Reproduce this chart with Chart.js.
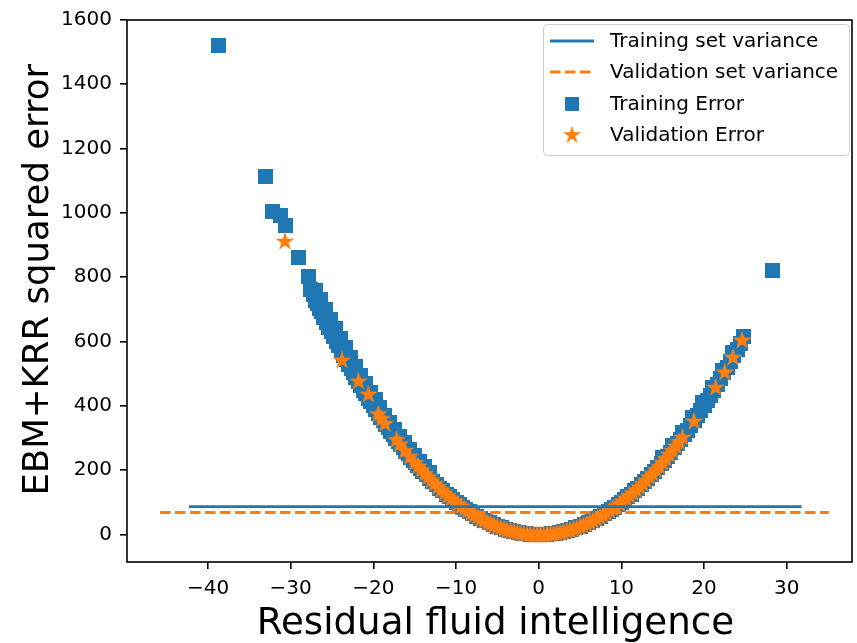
<!DOCTYPE html>
<html>
<head>
<meta charset="utf-8">
<script src="https://cdn.jsdelivr.net/npm/chart.js@4.4.1/dist/chart.umd.min.js"></script>
<style>
  body { margin: 0; background: #fff; }
  #wrap { width: 857px; height: 643px; }
</style>
</head>
<body>
<div id="wrap"><canvas id="chart" width="857" height="643"></canvas></div>
<script>
const BLUE = '#1f77b4';
const ORANGE = '#ff7f0e';
const FONT = "'DejaVu Sans', sans-serif";

// Horizontal variance lines (x extent and level)
const trainVarX = [-42.3, 31.8];
const trainVarY = 86;
const valVarX = [-45.8, 35.1];
const valVarY = 68;

// Training error (residual, squared error)
const trainX = [
  -38.7, -33.0, -32.2, -31.2, -30.6, -29.0, -27.9,
  -27.6, -27.3, -27.0, -26.8, -26.5, -26.3, -26.0, -25.7, -25.4, -25.1,
  -24.8, -24.5, -24.2, -23.9, -23.6, -23.3, -23.0, -22.7, -22.4, -22.1,
  -21.8, -21.5, -21.2, -20.9, -20.6, -20.3, -20.0, -19.7, -19.4, -19.1,
  -18.8, -18.5, -18.2, -17.9, -17.6, -17.3, -17.0, -16.7, -16.4, -16.1,
  -15.8, -15.5, -15.2, -14.9, -14.6, -14.3, -14.0, -13.6, -13.2, -12.8,
  -12.4, -12.0, -11.6, -11.2, -10.8, -10.4, -10.0, -9.6, -9.2, -8.8,
  -8.4, -8.0, -7.5, -7.0, -6.5, -6.0, -5.5, -5.0, -4.5, -4.0,
  -3.5, -3.0, -2.5, -2.0, -1.5, -1.0, -0.5, 0.0,
  0.5, 1.0, 1.5, 2.0, 2.5, 3.0, 3.5, 4.0, 4.5, 5.0,
  5.5, 6.0, 6.5, 7.0, 7.5, 8.0, 8.4, 8.8, 9.2, 9.6,
  10.0, 10.4, 10.8, 11.2, 11.6, 12.0, 12.4, 12.8, 13.2, 13.6,
  14.0, 14.4, 14.8, 15.2, 15.6, 16.0, 16.4, 16.8, 17.2, 17.6,
  18.0, 18.4, 18.8, 19.2, 19.6, 20.0, 20.4, 20.8, 21.2, 21.6,
  22.0, 22.4, 22.8, 23.2, 23.6, 24.0, 24.4, 24.8,
  28.3,
  -27.0, -26.4, -25.8, -25.2, -24.6, -24.0, -23.4, -22.8, -22.2, -21.6,
  -21.0, -20.4, -19.8, -19.2, -18.6, -18.0, -17.4, -16.8, -16.2, -15.6,
  -15.0, -14.4, -13.8, -13.2,
  15.0, 16.2, 17.4, 18.6, 19.8, 21.0, 22.2, 23.4
];
const trainY = [
  1520, 1113, 1005, 993, 962, 860, 801,
  762, 745, 729, 718, 702, 692, 676, 660, 645, 630,
  615, 600, 586, 571, 557, 543, 529, 515, 502, 488,
  475, 462, 449, 437, 424, 412, 400, 388, 376, 365,
  353, 342, 331, 320, 310, 299, 289, 279, 269, 259,
  250, 240, 231, 222, 213, 204, 196, 185, 174, 164,
  154, 144, 135, 125, 117, 108, 100, 92, 85, 77,
  71, 64, 56, 49, 42, 36, 30, 25, 20, 16,
  12, 9, 6, 4, 2, 1, 0, 0,
  0, 1, 2, 4, 6, 9, 12, 16, 20, 25,
  30, 36, 42, 49, 56, 64, 71, 77, 85, 92,
  100, 108, 117, 125, 135, 144, 154, 164, 174, 185,
  196, 207, 219, 231, 243, 256, 269, 282, 296, 310,
  324, 339, 353, 369, 384, 400, 416, 433, 449, 467,
  484, 502, 520, 538, 557, 576, 595, 615,
  820,
  760, 730, 700, 668, 640, 610, 580, 550, 522, 495,
  468, 442, 418, 394, 370, 348, 326, 305, 285, 265,
  246, 228, 210, 192,
  240, 275, 318, 362, 410, 458, 510, 566
];

// Validation error
const valX = [
  -30.7, -23.8, -21.8, -20.6, -19.4, -19.0, -18.6, -17.2, -16.8, -16.2,
  -15.6, -15.0, -14.6, -14.2, -13.8, -13.4, -13.0, -12.6, -12.2, -11.8,
  -11.4, -11.0, -10.6, -10.2, -9.8, -9.4, -9.0, -8.6, -8.2, -7.8,
  -7.4, -7.0, -6.6, -6.2, -5.8, -5.4, -5.0, -4.6, -4.2, -3.8,
  -3.4, -3.0, -2.6, -2.2, -1.8, -1.4, -1.0, -0.6, -0.2, 0.2,
  0.6, 1.0, 1.4, 1.8, 2.2, 2.6, 3.0, 3.4, 3.8, 4.2,
  4.6, 5.0, 5.4, 5.8, 6.2, 6.6, 7.0, 7.4, 7.8, 8.2,
  8.6, 9.0, 9.4, 9.8, 10.2, 10.6, 11.0, 11.4, 11.8, 12.2,
  12.6, 13.0, 13.4, 13.8, 14.2, 14.6, 15.0, 15.4, 15.8, 16.2,
  16.6, 17.0, 17.4, 18.8, 21.4, 22.5, 23.5, 24.6
];
const valY = [
  913, 543, 478, 437, 376, 361, 346, 296, 282, 262,
  243, 225, 213, 202, 190, 180, 169, 159, 149, 139,
  130, 121, 112, 104, 96, 88, 81, 74, 67, 61,
  55, 49, 44, 38, 34, 29, 25, 21, 18, 14,
  12, 9, 7, 5, 3, 2, 1, 0, 0, 0,
  0, 1, 2, 3, 5, 7, 9, 12, 14, 18,
  21, 25, 29, 34, 38, 44, 49, 55, 61, 67,
  74, 81, 88, 96, 104, 112, 121, 130, 139, 149,
  159, 169, 180, 190, 202, 213, 225, 237, 250, 262,
  276, 289, 303, 353, 458, 506, 552, 605
];

const legendLabels = ['Training set variance', 'Validation set variance', 'Training Error', 'Validation Error'];
const xTicks = [-40, -30, -20, -10, 0, 10, 20, 30];

// marker images
function squareMarker(size, color) {
  const c = document.createElement('canvas');
  c.width = size; c.height = size;
  const g = c.getContext('2d');
  g.fillStyle = color;
  g.fillRect(0, 0, size, size);
  return c;
}
function starPath(g, cx, cy, R) {
  const r = R * 0.382;
  g.beginPath();
  for (let i = 0; i < 10; i++) {
    const rad = i % 2 === 0 ? R : r;
    const a = -Math.PI / 2 + i * Math.PI / 5;
    const px = cx + rad * Math.cos(a), py = cy + rad * Math.sin(a);
    if (i === 0) g.moveTo(px, py); else g.lineTo(px, py);
  }
  g.closePath();
}
function starMarker(R, color) {
  const size = Math.ceil(R * 2 + 4);
  const c = document.createElement('canvas');
  c.width = size; c.height = size;
  const g = c.getContext('2d');
  starPath(g, size / 2, size / 2 + R * 0.1, R);
  g.fillStyle = color;
  g.fill();
  g.lineWidth = 1.2;
  g.strokeStyle = color;
  g.stroke();
  return c;
}
const squareImg = squareMarker(15, BLUE);
const starImg = starMarker(8, ORANGE);
const legendSquare = squareMarker(14, BLUE);
const legendStar = starMarker(7.5, ORANGE);

const framePlugin = {
  id: 'frame',
  afterDatasetsDraw(chart) {
    const { ctx, chartArea: a } = chart;
    ctx.save();
    ctx.strokeStyle = '#000';
    ctx.lineWidth = 1.6;
    ctx.strokeRect(a.left, a.top, a.right - a.left, a.bottom - a.top);
    ctx.restore();
  },
  afterDraw(chart) {
    const ctx = chart.ctx;
    ctx.save();
    // legend box
    const bx = 543.5, by = 24.5, bw = 306, bh = 131, rr = 4;
    ctx.beginPath();
    ctx.moveTo(bx + rr, by);
    ctx.arcTo(bx + bw, by, bx + bw, by + bh, rr);
    ctx.arcTo(bx + bw, by + bh, bx, by + bh, rr);
    ctx.arcTo(bx, by + bh, bx, by, rr);
    ctx.arcTo(bx, by, bx + bw, by, rr);
    ctx.closePath();
    ctx.fillStyle = 'rgba(255,255,255,0.8)';
    ctx.fill();
    ctx.strokeStyle = '#cccccc';
    ctx.lineWidth = 1;
    ctx.stroke();

    const rows = [41, 72, 103.5, 134.5];
    ctx.lineWidth = 2.8;
    ctx.strokeStyle = BLUE;
    ctx.beginPath(); ctx.moveTo(550, rows[0]); ctx.lineTo(594, rows[0]); ctx.stroke();
    ctx.strokeStyle = ORANGE;
    ctx.setLineDash([10.5, 4.5]);
    ctx.beginPath(); ctx.moveTo(550, rows[1]); ctx.lineTo(594, rows[1]); ctx.stroke();
    ctx.setLineDash([]);
    ctx.drawImage(legendSquare, 572 - 7, rows[2] - 7);
    ctx.drawImage(legendStar, 572 - legendStar.width / 2, rows[3] - legendStar.height / 2);

    ctx.fillStyle = '#000';
    ctx.font = "20px " + FONT;
    ctx.textBaseline = 'middle';
    ctx.textAlign = 'left';
    legendLabels.forEach((t, i) => ctx.fillText(t, 610, rows[i] + 1));
    ctx.restore();
  }
};

const ctx = document.getElementById('chart').getContext('2d');
new Chart(ctx, {
  type: 'scatter',
  data: {
    datasets: [
      {
        type: 'line',
        label: legendLabels[0],
        data: trainVarX.map(x => ({ x, y: trainVarY })),
        borderColor: BLUE,
        borderWidth: 2.8,
        pointRadius: 0,
        order: 0
      },
      {
        type: 'line',
        label: legendLabels[1],
        data: valVarX.map(x => ({ x, y: valVarY })),
        borderColor: ORANGE,
        borderWidth: 2.8,
        borderDash: [10.5, 4.5],
        pointRadius: 0,
        order: 1
      },
      {
        label: legendLabels[2],
        data: trainX.map((x, i) => ({ x, y: trainY[i] })),
        pointStyle: squareImg,
        backgroundColor: BLUE,
        borderColor: BLUE,
        order: 3
      },
      {
        label: legendLabels[3],
        data: valX.map((x, i) => ({ x, y: valY[i] })),
        pointStyle: starImg,
        backgroundColor: ORANGE,
        borderColor: ORANGE,
        order: 2
      }
    ]
  },
  options: {
    responsive: false,
    animation: false,
    devicePixelRatio: 1,
    layout: { padding: { top: 13, right: 4, left: 0, bottom: 0 } },
    plugins: { legend: { display: false }, tooltip: { enabled: false } },
    scales: {
      x: {
        type: 'linear',
        min: -49.8,
        max: 37.9,
        afterFit: s => { s.height = 81; },
        afterBuildTicks: s => { s.ticks = xTicks.map(v => ({ value: v })); },
        border: { display: false },
        grid: { drawOnChartArea: false, drawTicks: true, tickLength: 7, color: '#000', lineWidth: 1.6 },
        ticks: {
          padding: 8,
          color: '#000',
          font: { family: FONT, size: 20 },
          callback: v => v < 0 ? '\u2212' + Math.abs(v) : String(v)
        },
        title: {
          display: true,
          text: ' Residual fluid intelligence',
          color: '#000',
          font: { family: FONT, size: 37.2 },
          padding: { top: 0, bottom: -4 }
        }
      },
      y: {
        type: 'linear',
        min: -86,
        max: 1600,
        afterFit: s => { s.width = 127; },
        border: { display: false },
        grid: { drawOnChartArea: false, drawTicks: true, tickLength: 7, color: '#000', lineWidth: 1.6 },
        ticks: {
          stepSize: 200,
          includeBounds: false,
          padding: 8,
          color: '#000',
          font: { family: FONT, size: 20 },
          callback: v => String(v)
        },
        title: {
          display: true,
          text: '  EBM+KRR squared error',
          color: '#000',
          font: { family: FONT, size: 35.5 },
          padding: { top: 17, bottom: 0 }
        }
      }
    }
  },
  plugins: [framePlugin]
});
</script>
</body>
</html>
